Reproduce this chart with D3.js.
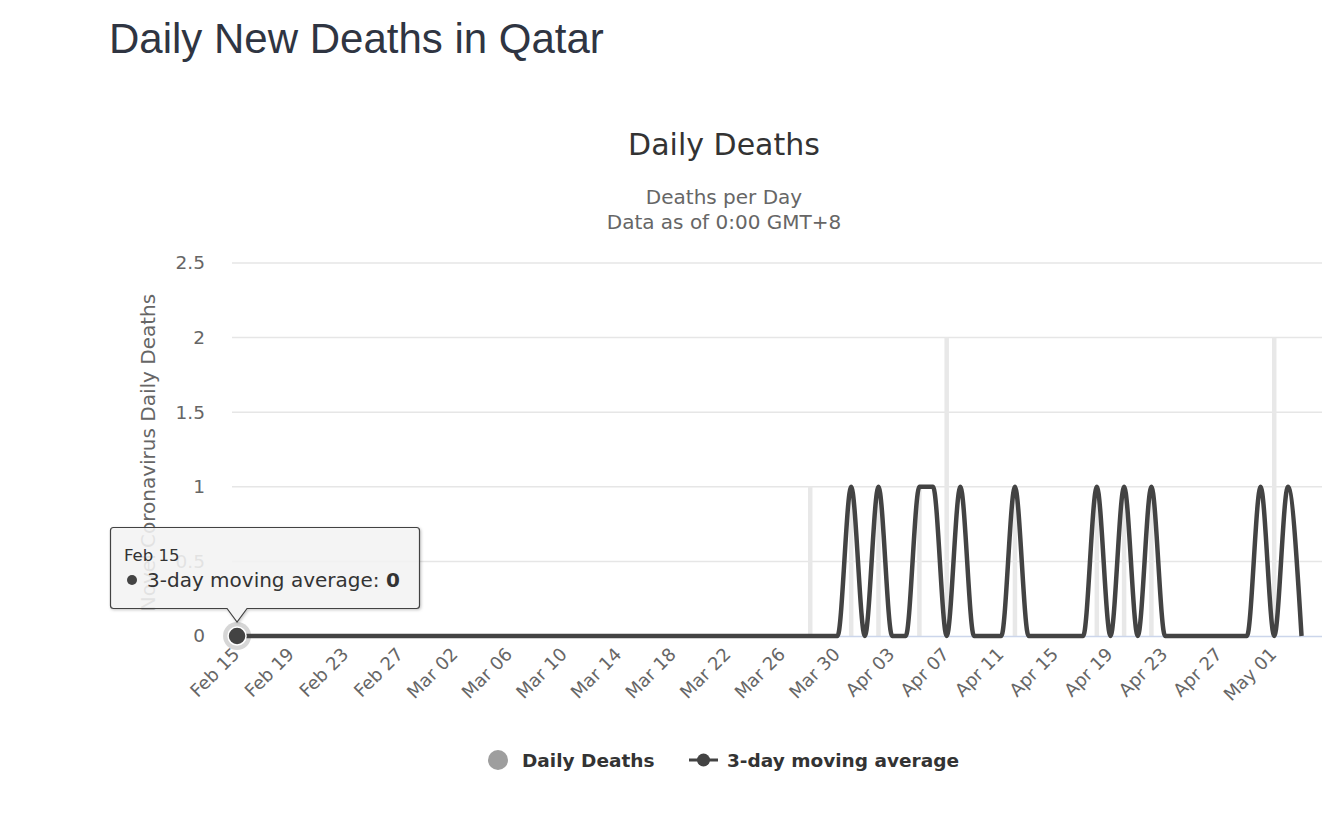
<!DOCTYPE html>
<html>
<head>
<meta charset="utf-8">
<script src="https://cdn.jsdelivr.net/npm/d3@7"></script>
<style>
  body { margin: 0; background: #fff; }
  svg { display: block; font-family: "DejaVu Sans", "Open Sans", sans-serif; }
</style>
</head>
<body>
<svg id="chart" width="1343" height="816"></svg>
<script>
// ---- data ----
const startDate = new Date(2020, 1, 15);
const dailyDeaths = [
  0,0,0,0,0,0,0,0,0,0, 0,0,0,0,0,0,0,0,0,0,
  0,0,0,0,0,0,0,0,0,0, 0,0,0,0,0,0,0,0,0,0,
  0,0,1,0,0,1,0,1,0,0, 1,0,2,0,0,0,0,1,0,0,
  0,0,0,1,0,1,0,1,0,0, 0,0,0,0,0,0,2,0,0
];
const movingAverage = [
  0,0,0,0,0,0,0,0,0,0, 0,0,0,0,0,0,0,0,0,0,
  0,0,0,0,0,0,0,0,0,0, 0,0,0,0,0,0,0,0,0,0,
  0,0,0,0,0,1,0,1,0,0, 1,1,0,1,0,0,0,1,0,0,
  0,0,0,1,0,1,0,1,0,0, 0,0,0,0,0,1,0,1,0
];
const yTicks = [0, 0.5, 1, 1.5, 2, 2.5];
const xTickLabels = ["Feb 15","Feb 19","Feb 23","Feb 27","Mar 02","Mar 06","Mar 10","Mar 14","Mar 18","Mar 22",
  "Mar 26","Mar 30","Apr 03","Apr 07","Apr 11","Apr 15","Apr 19","Apr 23","Apr 27","May 01"];
const tickEvery = 4;

(function () {
const svg = d3.select("#chart");
const pL = 232, pR = 1322, pT = 263, pB = 636;

const x = d3.scaleLinear().domain([-0.37, 79.5]).range([pL, pR]);
const y = d3.scaleLinear().domain([0, 2.5]).range([pB, pT]);

// page title
svg.append("text").attr("x", 109).attr("y", 53)
  .attr("font-family", "'Liberation Sans', Arial, sans-serif")
  .attr("font-size", 42).attr("fill", "#2f3542").text("Daily New Deaths in Qatar");

// chart title & subtitle
svg.append("text").attr("x", 724).attr("y", 155).attr("text-anchor", "middle")
  .attr("font-size", 30).attr("fill", "#333").text("Daily Deaths");
svg.append("text").attr("x", 724).attr("y", 204).attr("text-anchor", "middle")
  .attr("font-size", 20).attr("fill", "#666").text("Deaths per Day");
svg.append("text").attr("x", 724).attr("y", 229).attr("text-anchor", "middle")
  .attr("font-size", 20).attr("fill", "#666").text("Data as of 0:00 GMT+8");

// gridlines
svg.append("g").selectAll("line").data(yTicks.filter(d => d > 0)).join("line")
  .attr("x1", pL).attr("x2", pR)
  .attr("y1", d => y(d)).attr("y2", d => y(d))
  .attr("stroke", "#e6e6e6").attr("stroke-width", 1.5);

// y tick labels
svg.append("g").selectAll("text").data(yTicks).join("text")
  .attr("x", 205).attr("y", d => y(d)).attr("dy", "0.35em")
  .attr("text-anchor", "end").attr("font-size", 18.5).attr("fill", "#666")
  .text(d => d);

// y axis title
svg.append("text")
  .attr("transform", `translate(155, ${(pT + pB) / 2 + 3}) rotate(-90)`)
  .attr("text-anchor", "middle").attr("font-size", 20).attr("fill", "#666")
  .text("Novel Coronavirus Daily Deaths");

// bars
const barW = 4.5;
svg.append("g").selectAll("rect").data(dailyDeaths.map((v, i) => ({ v, i })).filter(d => d.v > 0)).join("rect")
  .attr("x", d => x(d.i) - barW / 2).attr("width", barW)
  .attr("y", d => y(d.v)).attr("height", d => y(0) - y(d.v))
  .attr("fill", "#e8e8e8");

// x axis line
svg.append("line").attr("x1", pL).attr("x2", pR).attr("y1", pB + 0.5).attr("y2", pB + 0.5)
  .attr("stroke", "#ccd6eb").attr("stroke-width", 1.5);

// x tick labels
svg.append("g").selectAll("text").data(xTickLabels).join("text")
  .attr("transform", (d, k) => `translate(${x(k * tickEvery) - 1}, 651) rotate(-45)`)
  .attr("text-anchor", "end").attr("dy", "0.35em").attr("font-size", 18).attr("fill", "#666")
  .text(d => d);

// moving average line
const line = d3.line().x((d, i) => x(i)).y(d => y(d)).curve(d3.curveMonotoneX);
svg.append("path").datum(movingAverage).attr("d", line)
  .attr("fill", "none").attr("stroke", "#434343").attr("stroke-width", 4.5)
  .attr("stroke-linejoin", "round");

// hover marker on first point
svg.append("circle").attr("cx", x(0)).attr("cy", y(movingAverage[0])).attr("r", 14)
  .attr("fill", "#434343").attr("fill-opacity", 0.22);
svg.append("circle").attr("cx", x(0)).attr("cy", y(movingAverage[0])).attr("r", 9)
  .attr("fill", "#434343").attr("stroke", "#fff").attr("stroke-width", 1.5);

// tooltip
const defs = svg.append("defs");
const f = defs.append("filter").attr("id", "shadow").attr("x", "-10%").attr("y", "-10%").attr("width", "130%").attr("height", "140%");
f.append("feDropShadow").attr("dx", 1).attr("dy", 1).attr("stdDeviation", 1.5).attr("flood-opacity", 0.25);
const tx = 110.5, ty = 527.5, tw = 309, th = 81, px = x(0), py = 622;
const tipPath = `M${tx + 3},${ty} H${tx + tw - 3} Q${tx + tw},${ty} ${tx + tw},${ty + 3} V${ty + th - 3} Q${tx + tw},${ty + th} ${tx + tw - 3},${ty + th}
  H${px + 10} L${px},${py} L${px - 10},${ty + th} H${tx + 3} Q${tx},${ty + th} ${tx},${ty + th - 3} V${ty + 3} Q${tx},${ty} ${tx + 3},${ty} Z`;
svg.append("path").attr("d", tipPath).attr("fill", "rgba(247,247,247,0.85)")
  .attr("stroke", "#434343").attr("stroke-width", 1.2).attr("filter", "url(#shadow)");
svg.append("text").attr("x", 124).attr("y", 561).attr("font-size", 16.5).attr("fill", "#333")
  .text(d3.timeFormat("%b %d")(startDate).replace(" 0", " "));
svg.append("circle").attr("cx", 132).attr("cy", 580).attr("r", 5).attr("fill", "#434343");
const t2 = svg.append("text").attr("x", 147).attr("y", 587).attr("font-size", 20).attr("fill", "#333");
t2.append("tspan").text("3-day moving average: ");
t2.append("tspan").attr("font-weight", "bold").text(movingAverage[0]);

// legend
svg.append("circle").attr("cx", 498).attr("cy", 760).attr("r", 10).attr("fill", "#9e9e9e");
svg.append("text").attr("x", 522).attr("y", 767).attr("font-size", 18.5).attr("font-weight", "bold")
  .attr("fill", "#333").text("Daily Deaths");
svg.append("line").attr("x1", 689).attr("x2", 718).attr("y1", 760).attr("y2", 760)
  .attr("stroke", "#434343").attr("stroke-width", 3);
svg.append("circle").attr("cx", 703.5).attr("cy", 760).attr("r", 6.5).attr("fill", "#434343");
svg.append("text").attr("x", 727).attr("y", 767).attr("font-size", 18.5).attr("font-weight", "bold")
  .attr("fill", "#333").text("3-day moving average");
})();
</script>
</body>
</html>
